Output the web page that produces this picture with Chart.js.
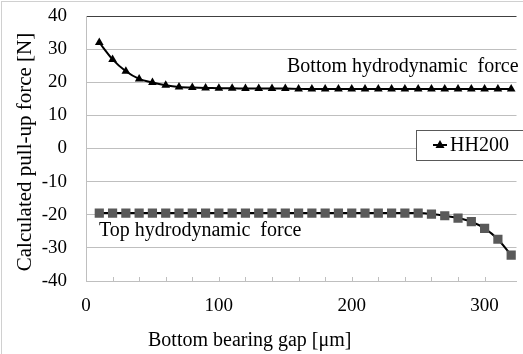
<!DOCTYPE html>
<html>
<head>
<meta charset="utf-8">
<script src="https://cdn.jsdelivr.net/npm/chart.js@4"></script>
<style>
  html, body { margin: 0; padding: 0; background: #fff; }
  #wrap { width: 523px; height: 354px; }
</style>
</head>
<body>
<div id="wrap"><canvas id="chart" width="523" height="354"></canvas></div>
<script>
const gaps = [10, 20, 30, 40, 50, 60, 70, 80, 90, 100, 110, 120, 130, 140, 150, 160,
  170, 180, 190, 200, 210, 220, 230, 240, 250, 260, 270, 280, 290, 300, 310, 320];
const bottomForce = [32.0, 26.9, 23.3, 21.0, 19.9, 19.1, 18.6, 18.4, 18.3, 18.2, 18.2, 18.1, 18.1, 18.1, 18.1, 18.0,
  18.0, 18.0, 18.0, 18.0, 18.0, 18.0, 18.0, 18.0, 18.0, 18.0, 18.0, 18.0, 18.0, 18.0, 18.0, 18.0];
const topForce = [-19.5, -19.5, -19.5, -19.5, -19.5, -19.5, -19.5, -19.5, -19.5, -19.5, -19.5, -19.5, -19.5, -19.5, -19.5, -19.5,
  -19.5, -19.5, -19.5, -19.5, -19.5, -19.5, -19.5, -19.5, -19.5, -19.8, -20.3, -21.0, -22.1, -24.1, -27.4, -32.2];
const xLabels = [0, 100, 200, 300];
const seriesName = "HH200";

const FONT = "'Liberation Serif', 'Times New Roman', serif";
const toPoints = (vals) => gaps.map((g, i) => ({ x: g, y: vals[i] }));

// textos, marco, ticks menores y leyenda dibujados a mano
const extras = {
  id: "extras",
  beforeDraw(chart) {
    const ctx = chart.ctx;
    ctx.save();
    ctx.fillStyle = "#fff";
    ctx.fillRect(0, 0, chart.width, chart.height);
    ctx.strokeStyle = "#d0d0d0";
    ctx.lineWidth = 1;
    ctx.strokeRect(1.5, 1.5, 700, 700);
    ctx.restore();
  },
  afterDraw(chart) {
    const ctx = chart.ctx;
    const xs = chart.scales.x;
    const area = chart.chartArea;
    ctx.save();

    // ticks menores hacia dentro
    ctx.strokeStyle = "#bfbfbf";
    ctx.lineWidth = 1;
    xs.ticks.forEach((t) => {
      if (t.value % 20 !== 0 || t.value === 0) return;
      const px = Math.round(xs.getPixelForValue(t.value)) + 0.5;
      ctx.beginPath();
      ctx.moveTo(px, area.bottom);
      ctx.lineTo(px, area.bottom - 4);
      ctx.stroke();
    });

    ctx.fillStyle = "#000";
    ctx.font = "20px " + FONT;
    ctx.textBaseline = "alphabetic";
    ctx.textAlign = "left";
    ctx.fillText("Bottom hydrodynamic  force", 287, 72);
    ctx.fillText("Top hydrodynamic  force", 99, 236);
    ctx.fillText("Bottom bearing gap [μm]", 148, 346);

    ctx.save();
    ctx.translate(31, 152);
    ctx.rotate(-Math.PI / 2);
    ctx.textAlign = "center";
    ctx.font = "21px " + FONT;
    ctx.fillText("Calculated pull-up force [N]", 0, 0);
    ctx.restore();

    // leyenda
    ctx.fillStyle = "#fff";
    ctx.fillRect(416, 130, 120, 30);
    ctx.strokeStyle = "#595959";
    ctx.strokeRect(416.5, 130.5, 120, 30);
    ctx.strokeStyle = "#000";
    ctx.lineWidth = 2;
    ctx.beginPath();
    ctx.moveTo(433, 145);
    ctx.lineTo(447, 145);
    ctx.stroke();
    ctx.fillStyle = "#000";
    ctx.beginPath();
    ctx.moveTo(440, 140);
    ctx.lineTo(444.5, 148);
    ctx.lineTo(435.5, 148);
    ctx.closePath();
    ctx.fill();
    ctx.font = "20px " + FONT;
    ctx.textBaseline = "middle";
    ctx.fillText(seriesName, 450, 146);

    ctx.restore();
  },
};

new Chart(document.getElementById("chart"), {
  type: "line",
  data: {
    datasets: [
      {
        label: seriesName,
        data: toPoints(bottomForce),
        borderColor: "#000",
        backgroundColor: "#000",
        borderWidth: 2,
        pointStyle: "triangle",
        pointRadius: 5,
        pointBorderWidth: 0,
        tension: 0.25,
      },
      {
        label: "Top",
        data: toPoints(topForce),
        borderColor: "#000",
        backgroundColor: "#595959",
        borderWidth: 2,
        pointStyle: "rect",
        pointRadius: 6.5,
        pointBorderWidth: 0,
        tension: 0.25,
      },
    ],
  },
  options: {
    responsive: false,
    animation: false,
    layout: { padding: { top: 16, left: 0, right: 0, bottom: 0 } },
    plugins: { legend: { display: false }, tooltip: { enabled: false } },
    scales: {
      x: {
        type: "linear",
        min: 0,
        max: 324,
        afterFit: (s) => { s.height = 73; s.paddingLeft = 0; s.paddingRight = 0; },
        grid: { display: false },
        border: { color: "#bfbfbf" },
        ticks: {
          stepSize: 20,
          autoSkip: false,
          maxRotation: 0,
          padding: 6,
          color: "#000",
          font: { family: FONT, size: 19 },
          callback: (v) => (xLabels.includes(v) ? String(v) : ""),
        },
      },
      y: {
        min: -40,
        max: 40,
        afterFit: (s) => { s.width = 86; s.paddingTop = 0; s.paddingBottom = 0; },
        grid: {
          drawTicks: false,
          color: (c) => (c.tick && c.tick.value === 40 ? "#404040" : "#bfbfbf"),
        },
        border: { color: "#bfbfbf" },
        ticks: {
          stepSize: 10,
          padding: 19,
          color: "#000",
          font: { family: FONT, size: 19 },
        },
      },
    },
  },
  plugins: [extras],
});
</script>
</body>
</html>
